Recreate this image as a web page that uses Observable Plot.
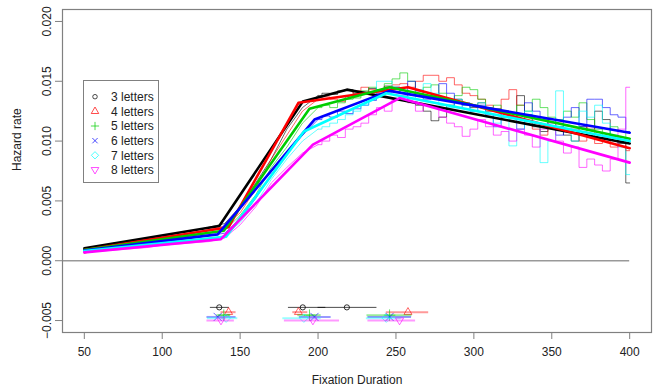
<!DOCTYPE html>
<html><head><meta charset="utf-8">
<script src="https://cdn.jsdelivr.net/npm/d3@7"></script>
<script src="https://cdn.jsdelivr.net/npm/@observablehq/plot@0.6"></script>
<style>body{margin:0;background:#fff} svg{display:block}</style>
</head><body><div id="chart"></div>
<script>
const seriesNames = ["3 letters","4 letters","5 letters","6 letters","7 letters","8 letters"];
const seriesColors = ["#000000","#FF0000","#00CD00","#0000FF","#00FFFF","#FF00FF"];

// x grid of the empirical (thin) hazard curves
const xEmp = [50,60,70,80,90,100,110,120,130,140,150,160,170,180,190,200,
  205,210,215,220,225,230,235,240,245,250,255,260,265,270,275,280,285,290,295,300,
  305,310,315,320,325,330,335,340,345,350,355,360,365,370,375,380,385,390,395,400];

const emp3 = [0.0010,0.0012,0.0015,0.0016,0.0018,0.0020,0.0023,0.0025,0.0028,0.0031,0.0045,0.0065,0.0085,0.0110,0.0128,0.0138,
  0.0140,0.0139,0.0142,0.0143,0.0140,0.0141,0.0144,0.0143,0.0146,0.0145,0.0140,0.0133,0.0130,0.0125,0.0117,0.0120,0.0130,0.0135,0.0130,0.0128,
  0.0132,0.0125,0.0127,0.0120,0.0120,0.0138,0.0122,0.0112,0.0108,0.0118,0.0112,0.0105,0.0100,0.0112,0.0110,0.0125,0.0118,0.0104,0.0098,0.0065];
const emp4 = [0.0006,0.0011,0.0013,0.0015,0.0017,0.0019,0.0021,0.0023,0.0026,0.0029,0.0040,0.0060,0.0085,0.0105,0.0125,0.0135,
  0.0137,0.0135,0.0133,0.0138,0.0142,0.0145,0.0143,0.0140,0.0145,0.0147,0.0148,0.0145,0.0150,0.0155,0.0155,0.0150,0.0153,0.0147,0.0140,0.0138,
  0.0135,0.0130,0.0125,0.0135,0.0143,0.0130,0.0120,0.0110,0.0105,0.0112,0.0115,0.0108,0.0110,0.0100,0.0112,0.0098,0.0103,0.0095,0.0100,0.0092];
const emp5 = [0.0009,0.0010,0.0012,0.0014,0.0015,0.0017,0.0019,0.0021,0.0023,0.0025,0.0038,0.0055,0.0078,0.0095,0.0115,0.0128,
  0.0130,0.0128,0.0132,0.0135,0.0136,0.0142,0.0145,0.0143,0.0148,0.0152,0.0157,0.0150,0.0140,0.0145,0.0147,0.0140,0.0135,0.0138,0.0145,0.0143,
  0.0135,0.0128,0.0130,0.0125,0.0120,0.0130,0.0125,0.0135,0.0128,0.0120,0.0118,0.0125,0.0120,0.0132,0.0118,0.0110,0.0105,0.0112,0.0108,0.0102];
const emp6 = [0.0008,0.0010,0.0011,0.0013,0.0014,0.0016,0.0017,0.0019,0.0021,0.0023,0.0035,0.0052,0.0072,0.0090,0.0105,0.0118,
  0.0121,0.0120,0.0125,0.0123,0.0127,0.0130,0.0134,0.0140,0.0141,0.0145,0.0140,0.0150,0.0142,0.0135,0.0138,0.0148,0.0140,0.0128,0.0132,0.0125,
  0.0130,0.0122,0.0112,0.0125,0.0120,0.0110,0.0132,0.0125,0.0118,0.0112,0.0105,0.0120,0.0128,0.0112,0.0135,0.0135,0.0128,0.0122,0.0120,0.0108];
const emp7 = [0.0008,0.0009,0.0010,0.0012,0.0013,0.0015,0.0016,0.0018,0.0019,0.0021,0.0032,0.0048,0.0068,0.0085,0.0100,0.0110,
  0.0112,0.0115,0.0118,0.0122,0.0125,0.0130,0.0135,0.0150,0.0150,0.0145,0.0140,0.0135,0.0143,0.0148,0.0140,0.0130,0.0128,0.0135,0.0130,0.0125,
  0.0132,0.0120,0.0115,0.0125,0.0096,0.0110,0.0125,0.0115,0.0082,0.0100,0.0142,0.0112,0.0100,0.0125,0.0120,0.0130,0.0115,0.0105,0.0095,0.0072];
const emp8 = [0.0007,0.0008,0.0009,0.0010,0.0011,0.0013,0.0014,0.0015,0.0016,0.0019,0.0030,0.0045,0.0065,0.0078,0.0090,0.0097,
  0.0100,0.0105,0.0103,0.0110,0.0112,0.0115,0.0122,0.0128,0.0125,0.0135,0.0138,0.0132,0.0125,0.0130,0.0128,0.0120,0.0115,0.0112,0.0104,0.0110,
  0.0118,0.0112,0.0105,0.0108,0.0100,0.0110,0.0105,0.0095,0.0110,0.0115,0.0100,0.0090,0.0095,0.0078,0.0085,0.0080,0.0075,0.0085,0.0110,0.0145];
const empSeries = [emp3, emp4, emp5, emp6, emp7, emp8];

// piecewise-linear fits: knot x and knot y
const fitX = [
  [50,136.6,190.2,218.5,400],
  [50,142.6,187.4,257.7,400],
  [50,139.5,194.5,245.9,400],
  [50,135.6,197.7,245.9,400],
  [50,141.0,190.9,243.8,400],
  [50,137.7,196.7,252.3,400]];
const fitY = [
  [0.00105,0.0029,0.0133,0.0143,0.0098],
  [0.0009,0.0028,0.0132,0.0145,0.0094],
  [0.0009,0.0025,0.0127,0.0145,0.0102],
  [0.00085,0.0022,0.0118,0.0142,0.0107],
  [0.0008,0.0020,0.0108,0.0140,0.0100],
  [0.0007,0.0018,0.0097,0.0136,0.0082]];

// breakpoint estimates with intervals (bottom of chart)
const bpEst = [[136.6,190.2,218.5],[142.6,187.4,257.7],[139.5,194.5,245.9],[135.6,197.7,245.9],[141.0,190.9,243.8],[137.7,196.7,252.3]];
const bpLo  = [[130.9,181.0,200.0],[137.7,183.8,243.8],[135.0,187.0,231.4],[128.7,188.0,232.0],[129.0,177.4,231.0],[128.7,178.4,232.0]];
const bpHi  = [[143.1,205.0,237.8],[147.4,193.4,271.0],[144.0,202.0,260.3],[147.4,208.4,260.0],[148.5,202.0,253.4],[146.3,213.8,262.6]];
const bpRowY = [-0.0039,-0.0043,-0.00455,-0.0047,-0.0048,-0.0050];

const xTicks = [50,100,150,200,250,300,350,400];
const yTicks = [-0.005,0.000,0.005,0.010,0.015,0.020];

const triDown = {draw(ctx, size){ const r = Math.sqrt(size/3)*1.1; ctx.moveTo(0, r); ctx.lineTo(r*0.95, -r*0.6); ctx.lineTo(-r*0.95, -r*0.6); ctx.closePath(); }};
const seriesSymbols = ["circle","triangle2","plus","times","diamond2", triDown];

const empRows = [], fitRows = [], bpRows = [];
seriesNames.forEach((s,i) => {
  xEmp.forEach((x,j) => empRows.push({s, x, y: empSeries[i][j]}));
  fitX[i].forEach((x,j) => fitRows.push({s, x, y: fitY[i][j]}));
  bpEst[i].forEach((x,j) => bpRows.push({s, i, x, lo: bpLo[i][j], hi: bpHi[i][j], y: bpRowY[i]}));
});

const font = "'Liberation Sans', Arial, Helvetica, sans-serif";
const colorScale = {domain: seriesNames, range: seriesColors};

const marks = [
  Plot.ruleY([0], {x1: 36, x2: 400, stroke: "#999", strokeWidth: 1.5}),
  Plot.line(empRows.filter(d => d.x <= 200), {x: "x", y: "y", z: "s", stroke: "s", strokeWidth: 1, strokeOpacity: 0.6}),
  Plot.line(empRows.filter(d => d.x >= 200), {x: "x", y: "y", z: "s", stroke: "s", strokeWidth: 1, strokeOpacity: 0.6, curve: "step"}),
  Plot.line(fitRows, {x: "x", y: "y", z: "s", stroke: "s", strokeWidth: 2.6})
];
seriesNames.forEach((s,i) => {
  const rows = bpRows.filter(d => d.i === i);
  marks.push(Plot.ruleY(rows, {y: "y", x1: "lo", x2: "hi", stroke: seriesColors[i], strokeWidth: i === 0 ? 1 : 2, strokeOpacity: i === 0 ? 0.7 : 0.4}));
  marks.push(Plot.dot(rows, {x: "x", y: "y", symbol: () => seriesSymbols[i], stroke: seriesColors[i], fill: "none", r: i === 0 ? 2.6 : 3.8, strokeWidth: 1, strokeOpacity: i === 0 ? 0.8 : 0.6}));
});
marks.push(
  Plot.frame({stroke: "#808080", strokeWidth: 1.2}),
  Plot.axisX(xTicks, {tickSize: 7, tickPadding: 8, stroke: "#808080", fill: "#222", fontSize: 12, label: null}),
  Plot.axisY(yTicks, {tickSize: 7, tickPadding: 5, tickRotate: -90, stroke: "#808080", fill: "#222", fontSize: 12, label: null, tickFormat: d3.format(".3f")}),
  Plot.text(["Fixation Duration"], {frameAnchor: "bottom", dy: 51, fontSize: 12, fill: "#222"}),
  Plot.text(["Hazard rate"], {frameAnchor: "left", dx: -45, rotate: -90, fontSize: 12, fill: "#222"})
);

const plot = Plot.plot({
  width: 653, height: 392,
  marginLeft: 62, marginTop: 9, marginRight: 2, marginBottom: 60,
  style: {fontFamily: font, fontSize: "12px", background: "#fff"},
  x: {domain: [36, 414]},
  y: {domain: [-0.006, 0.021]},
  color: colorScale,
  symbol: {type: "identity"},
  marks
});

// legend box
const svg = d3.select(plot);
const lg = svg.append("g").attr("font-family", font).attr("font-size", 12).attr("text-anchor", "start");
lg.append("rect").attr("x", 83.5).attr("y", 80.5).attr("width", 75).attr("height", 102).attr("fill", "#fff").attr("stroke", "#808080");
const legendSizes = [16, 40, 24, 20, 34, 40];
seriesNames.forEach((s,i) => {
  const yy = 96.7 + i * 14.65;
  const sym = typeof seriesSymbols[i] === "string" ? {circle: d3.symbolCircle, triangle2: d3.symbolTriangle2, plus: d3.symbolPlus, times: d3.symbolTimes, diamond2: d3.symbolDiamond2}[seriesSymbols[i]] : seriesSymbols[i];
  lg.append("path").attr("transform", `translate(95,${yy})`).attr("d", d3.symbol(sym, legendSizes[i])()).attr("fill", "none").attr("stroke", seriesColors[i]).attr("stroke-opacity", 0.7);
  lg.append("text").attr("x", 111).attr("y", yy + 4.3).attr("fill", "#222").attr("text-anchor", "start").text(s);
});
document.getElementById("chart").append(plot);
</script></body></html>
